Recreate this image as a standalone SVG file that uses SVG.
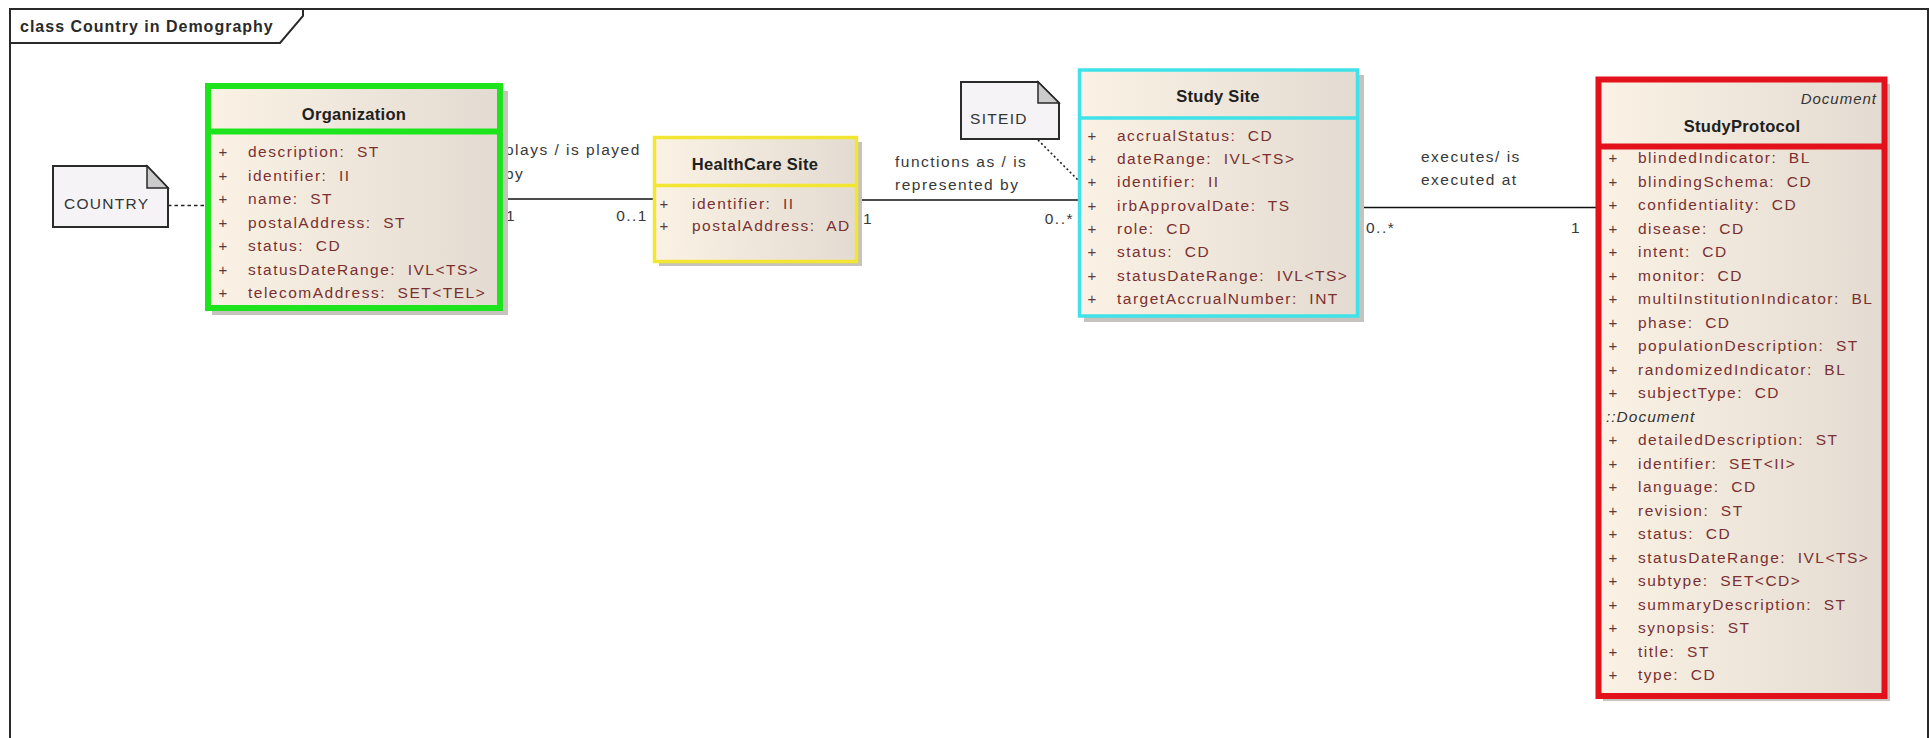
<svg xmlns="http://www.w3.org/2000/svg" width="1932" height="738" viewBox="0 0 1932 738" xml:space="preserve">
  <style>
    text { white-space: pre; }
    .frame { fill: none; stroke: #2a2a2a; stroke-width: 2; }
    .ftitle { font-family: "Liberation Sans", Arial, sans-serif; font-size: 16px; font-weight: bold; letter-spacing: 1px; fill: #2a2a2a; }
    .body { fill: url(#classFill); }
    .shadow { fill: #c6c2be; }
    .cname { font-family: "Liberation Sans", Arial, sans-serif; font-size: 16.5px; font-weight: bold; letter-spacing: 0.3px; fill: #202020; text-anchor: middle; }
    .stereo { font-family: "Liberation Sans", Arial, sans-serif; font-size: 15px; font-style: italic; letter-spacing: 1px; fill: #333; text-anchor: end; }
    .vis { font-family: "Liberation Sans", Arial, sans-serif; font-size: 15px; fill: #5a3a3a; text-anchor: middle; }
    .attr { font-family: "Liberation Sans", Arial, sans-serif; font-size: 15.5px; letter-spacing: 1.5px; fill: #7a3030; }
    .inh { font-family: "Liberation Sans", Arial, sans-serif; font-size: 15.5px; font-style: italic; letter-spacing: 1px; fill: #333; }
    .lbl { font-family: "Liberation Sans", Arial, sans-serif; font-size: 15.5px; letter-spacing: 1.5px; fill: #383838; }
    .end { text-anchor: end; }
    .note { fill: #f5f3f5; stroke: #2a2a2a; stroke-width: 2; }
    .fold { fill: #cbcbcb; stroke: #2a2a2a; stroke-width: 1.5; }
    .ntext { font-family: "Liberation Sans", Arial, sans-serif; font-size: 15.5px; letter-spacing: 1.3px; fill: #333; }
    .assoc { stroke: #111; stroke-width: 1.6; fill: none; }
    .notelink { stroke: #222; stroke-width: 1.6; fill: none; }
  </style>
  <defs>
    <linearGradient id="classFill" x1="0" y1="0" x2="1" y2="0">
      <stop offset="0" stop-color="#fbf2e5"/>
      <stop offset="1" stop-color="#e3dbd1"/>
    </linearGradient>
  </defs>

  <rect x="0" y="0" width="1932" height="738" fill="#ffffff"/>

  <!-- diagram frame with name tab -->
  <g id="frame">
    <path class="frame" d="M10,745 V9 H1928 V745"/>
    <path class="frame" d="M10,43 H280 L303,16 V9"/>
    <text class="ftitle" x="20" y="32">class Country in Demography</text>
  </g>

  <!-- associations and note links -->
  <g id="connectors">
    <line class="assoc" x1="503" y1="199" x2="653" y2="199"/>
    <line class="assoc" x1="858" y1="200" x2="1078" y2="200"/>
    <line class="assoc" x1="1359" y1="207.5" x2="1596" y2="207.5"/>
    <line class="notelink" x1="168" y1="205.5" x2="205" y2="205.5" stroke-dasharray="3.5,3"/>
    <line class="notelink" x1="1038" y1="140" x2="1078" y2="180" stroke-dasharray="2,2.5" stroke-width="1.3"/>

    <text class="lbl" x="505" y="155">plays / is played</text>
    <text class="lbl" x="505" y="179">by</text>
    <text class="lbl" x="506" y="221">1</text>
    <text class="lbl end" x="648" y="221">0..1</text>

    <text class="lbl" x="895" y="167">functions as / is</text>
    <text class="lbl" x="895" y="190">represented by</text>
    <text class="lbl" x="863" y="224">1</text>
    <text class="lbl end" x="1074" y="224">0..*</text>

    <text class="lbl" x="1421" y="162">executes/ is</text>
    <text class="lbl" x="1421" y="184.5">executed at</text>
    <text class="lbl" x="1366" y="233">0..*</text>
    <text class="lbl end" x="1581" y="233">1</text>
  </g>

  <!-- note: COUNTRY -->
  <g id="note-country">
    <path class="note" d="M53,166 H147 L168,188 V227 H53 Z"/>
    <path class="fold" d="M147,166 V188 H168 Z"/>
    <text class="ntext" x="64" y="209">COUNTRY</text>
  </g>

  <!-- note: SITEID -->
  <g id="note-siteid">
    <path class="note" d="M961,82 H1038 L1059,103 V139 H961 Z"/>
    <path class="fold" d="M1038,82 V103 H1059 Z"/>
    <text class="ntext" x="970" y="124">SITEID</text>
  </g>

  <!-- class: Organization -->
  <g id="organization">
    <rect class="shadow" x="212" y="91" width="296" height="224"/>
    <rect class="body" x="208" y="86" width="292" height="222"/>
    <rect x="208" y="86" width="292" height="222" fill="none" stroke="#1ee41e" stroke-width="6"/>
    <line x1="205" y1="131.5" x2="503" y2="131.5" stroke="#1ee41e" stroke-width="6"/>
    <text class="cname" x="354" y="120">Organization</text>
    <g>
      <text class="vis" x="223" y="157">+</text>
      <text class="vis" x="223" y="180.5">+</text>
      <text class="vis" x="223" y="204">+</text>
      <text class="vis" x="223" y="227.5">+</text>
      <text class="vis" x="223" y="251">+</text>
      <text class="vis" x="223" y="274.5">+</text>
      <text class="vis" x="223" y="298">+</text>
    </g>
    <text class="attr" x="248" y="157">description:  ST</text>
    <text class="attr" x="248" y="180.5">identifier:  II</text>
    <text class="attr" x="248" y="204">name:  ST</text>
    <text class="attr" x="248" y="227.5">postalAddress:  ST</text>
    <text class="attr" x="248" y="251">status:  CD</text>
    <text class="attr" x="248" y="274.5">statusDateRange:  IVL&lt;TS&gt;</text>
    <text class="attr" x="248" y="298">telecomAddress:  SET&lt;TEL&gt;</text>
  </g>

  <!-- class: HealthCareSite -->
  <g id="healthcaresite">
    <rect class="shadow" x="659" y="142" width="203" height="124"/>
    <rect class="body" x="654.5" y="137.5" width="202" height="124"/>
    <rect x="654.5" y="137.5" width="202" height="124" fill="none" stroke="#f2e632" stroke-width="3.5"/>
    <line x1="653" y1="185.5" x2="858" y2="185.5" stroke="#f2e632" stroke-width="3.5"/>
    <text class="cname" x="755" y="170">HealthCare Site</text>
    <text class="vis" x="664" y="209">+</text>
    <text class="vis" x="664" y="231">+</text>
    <text class="attr" x="692" y="209">identifier:  II</text>
    <text class="attr" x="692" y="231">postalAddress:  AD</text>
  </g>

  <!-- class: StudySite -->
  <g id="studysite">
    <rect class="shadow" x="1084" y="75" width="280" height="247"/>
    <rect class="body" x="1079.5" y="70" width="278" height="246"/>
    <rect x="1079.5" y="70" width="278" height="246" fill="none" stroke="#3ee2e8" stroke-width="3.5"/>
    <line x1="1078" y1="118" x2="1359" y2="118" stroke="#3ee2e8" stroke-width="3.5"/>
    <text class="cname" x="1218" y="102">Study Site</text>
    <g>
      <text class="vis" x="1092" y="140.7">+</text>
      <text class="vis" x="1092" y="164">+</text>
      <text class="vis" x="1092" y="187.3">+</text>
      <text class="vis" x="1092" y="210.6">+</text>
      <text class="vis" x="1092" y="233.9">+</text>
      <text class="vis" x="1092" y="257.2">+</text>
      <text class="vis" x="1092" y="280.5">+</text>
      <text class="vis" x="1092" y="303.8">+</text>
    </g>
    <text class="attr" x="1117" y="140.7">accrualStatus:  CD</text>
    <text class="attr" x="1117" y="164">dateRange:  IVL&lt;TS&gt;</text>
    <text class="attr" x="1117" y="187.3">identifier:  II</text>
    <text class="attr" x="1117" y="210.6">irbApprovalDate:  TS</text>
    <text class="attr" x="1117" y="233.9">role:  CD</text>
    <text class="attr" x="1117" y="257.2">status:  CD</text>
    <text class="attr" x="1117" y="280.5">statusDateRange:  IVL&lt;TS&gt;</text>
    <text class="attr" x="1117" y="303.8">targetAccrualNumber:  INT</text>
  </g>

  <!-- class: StudyProtocol (specialises Document) -->
  <g id="studyprotocol">
    <rect class="shadow" x="1603" y="84" width="287" height="617"/>
    <rect class="body" x="1598.5" y="79.5" width="286" height="616.5"/>
    <rect x="1598.5" y="79.5" width="286" height="616.5" fill="none" stroke="#e3111b" stroke-width="6"/>
    <line x1="1596" y1="146.5" x2="1887" y2="146.5" stroke="#e3111b" stroke-width="6"/>
    <text class="stereo" x="1877" y="104">Document</text>
    <text class="cname" x="1742" y="131.5">StudyProtocol</text>
    <g>
      <text class="vis" x="1613" y="163">+</text>
      <text class="vis" x="1613" y="186.5">+</text>
      <text class="vis" x="1613" y="210">+</text>
      <text class="vis" x="1613" y="233.5">+</text>
      <text class="vis" x="1613" y="257">+</text>
      <text class="vis" x="1613" y="280.5">+</text>
      <text class="vis" x="1613" y="304">+</text>
      <text class="vis" x="1613" y="327.5">+</text>
      <text class="vis" x="1613" y="351">+</text>
      <text class="vis" x="1613" y="374.5">+</text>
      <text class="vis" x="1613" y="398">+</text>
      <text class="vis" x="1613" y="445">+</text>
      <text class="vis" x="1613" y="468.5">+</text>
      <text class="vis" x="1613" y="492">+</text>
      <text class="vis" x="1613" y="515.5">+</text>
      <text class="vis" x="1613" y="539">+</text>
      <text class="vis" x="1613" y="562.5">+</text>
      <text class="vis" x="1613" y="586">+</text>
      <text class="vis" x="1613" y="609.5">+</text>
      <text class="vis" x="1613" y="633">+</text>
      <text class="vis" x="1613" y="656.5">+</text>
      <text class="vis" x="1613" y="680">+</text>
    </g>
    <text class="attr" x="1638" y="163">blindedIndicator:  BL</text>
    <text class="attr" x="1638" y="186.5">blindingSchema:  CD</text>
    <text class="attr" x="1638" y="210">confidentiality:  CD</text>
    <text class="attr" x="1638" y="233.5">disease:  CD</text>
    <text class="attr" x="1638" y="257">intent:  CD</text>
    <text class="attr" x="1638" y="280.5">monitor:  CD</text>
    <text class="attr" x="1638" y="304">multiInstitutionIndicator:  BL</text>
    <text class="attr" x="1638" y="327.5">phase:  CD</text>
    <text class="attr" x="1638" y="351">populationDescription:  ST</text>
    <text class="attr" x="1638" y="374.5">randomizedIndicator:  BL</text>
    <text class="attr" x="1638" y="398">subjectType:  CD</text>
    <text class="inh" x="1606" y="421.5">::Document</text>
    <text class="attr" x="1638" y="445">detailedDescription:  ST</text>
    <text class="attr" x="1638" y="468.5">identifier:  SET&lt;II&gt;</text>
    <text class="attr" x="1638" y="492">language:  CD</text>
    <text class="attr" x="1638" y="515.5">revision:  ST</text>
    <text class="attr" x="1638" y="539">status:  CD</text>
    <text class="attr" x="1638" y="562.5">statusDateRange:  IVL&lt;TS&gt;</text>
    <text class="attr" x="1638" y="586">subtype:  SET&lt;CD&gt;</text>
    <text class="attr" x="1638" y="609.5">summaryDescription:  ST</text>
    <text class="attr" x="1638" y="633">synopsis:  ST</text>
    <text class="attr" x="1638" y="656.5">title:  ST</text>
    <text class="attr" x="1638" y="680">type:  CD</text>
  </g>
</svg>
